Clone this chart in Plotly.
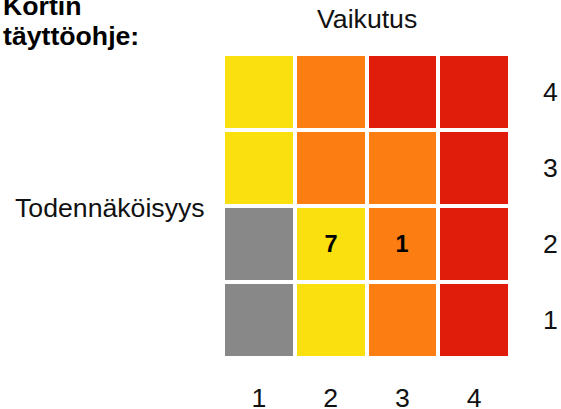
import plotly.graph_objects as go

# Data
impact = [1, 2, 3, 4]          # Vaikutus (x)
likelihood = [1, 2, 3, 4]      # Todennäköisyys (y)
tick_labels = ["1", "2", "3", "4"]
# risk level per cell: 0 = grey, 1 = yellow, 2 = orange, 3 = red (rows y=1..4)
risk_level = [
    [0, 1, 2, 3],
    [0, 1, 2, 3],
    [1, 2, 2, 3],
    [1, 2, 3, 3],
]
counts = [
    ["", "", "", ""],
    ["", "7", "1", ""],
    ["", "", "", ""],
    ["", "", "", ""],
]
level_colors = ["#888888", "#FBE00F", "#FC7E13", "#E01D0A"]

W, H = 561, 409
L, R, T, B = 223, 51, 54, 51
pw, ph = W - L - R, H - T - B

def px(x):
    return (x - L) / pw

def py(y):
    return (H - B - y) / ph

FONT = "Liberation Sans, Arial, sans-serif"
FS = 26.67

fig = go.Figure(go.Heatmap(
    x=impact, y=likelihood, z=risk_level,
    zmin=0, zmax=3,
    colorscale=[[0, level_colors[0]], [1/3, level_colors[1]],
                [2/3, level_colors[2]], [1, level_colors[3]]],
    showscale=False, xgap=4, ygap=4,
    text=counts, texttemplate="<b>%{text}</b>",
    textfont=dict(family=FONT, size=23.5, color="black"),
    hoverinfo="skip",
))

fig.update_layout(
    width=W, height=H,
    margin=dict(l=L, r=R, t=T, b=B, pad=0, autoexpand=False),
    paper_bgcolor="white", plot_bgcolor="white",
    font=dict(family=FONT, size=FS, color="#111111"),
    xaxis=dict(range=[0.5, 4.5], tickvals=impact, ticktext=tick_labels,
               showgrid=False, zeroline=False, showline=False, ticks="",
               automargin=False,
               ticklabelstandoff=21, tickfont=dict(size=FS)),
    yaxis=dict(range=[0.5, 4.5], tickvals=likelihood, ticktext=tick_labels,
               side="right", showgrid=False, zeroline=False, showline=False,
               ticks="", automargin=False,
               ticklabelstandoff=32, tickfont=dict(size=FS)),
    annotations=[
        dict(text="Vaikutus", xref="paper", yref="paper",
             x=px(367), y=py(19), xanchor="center", yanchor="middle",
             showarrow=False, font=dict(size=FS)),
        dict(text="Todennäköisyys", xref="paper", yref="paper",
             x=px(13), y=py(208), xanchor="left", yanchor="middle",
             showarrow=False, font=dict(size=FS)),
        dict(text="<b>Kortin</b>", xref="paper", yref="paper",
             x=px(1), y=py(6), xanchor="left", yanchor="middle",
             showarrow=False, font=dict(size=FS, color="black")),
        dict(text="<b>täyttöohje:</b>", xref="paper", yref="paper",
             x=px(1), y=py(36), xanchor="left", yanchor="middle",
             showarrow=False, font=dict(size=FS, color="black")),
    ],
)

fig.write_html("out.html",
               config={"displayModeBar": False, "staticPlot": True},
               post_script="document.body.style.margin='0';"
                           "document.body.style.overflow='hidden';")
